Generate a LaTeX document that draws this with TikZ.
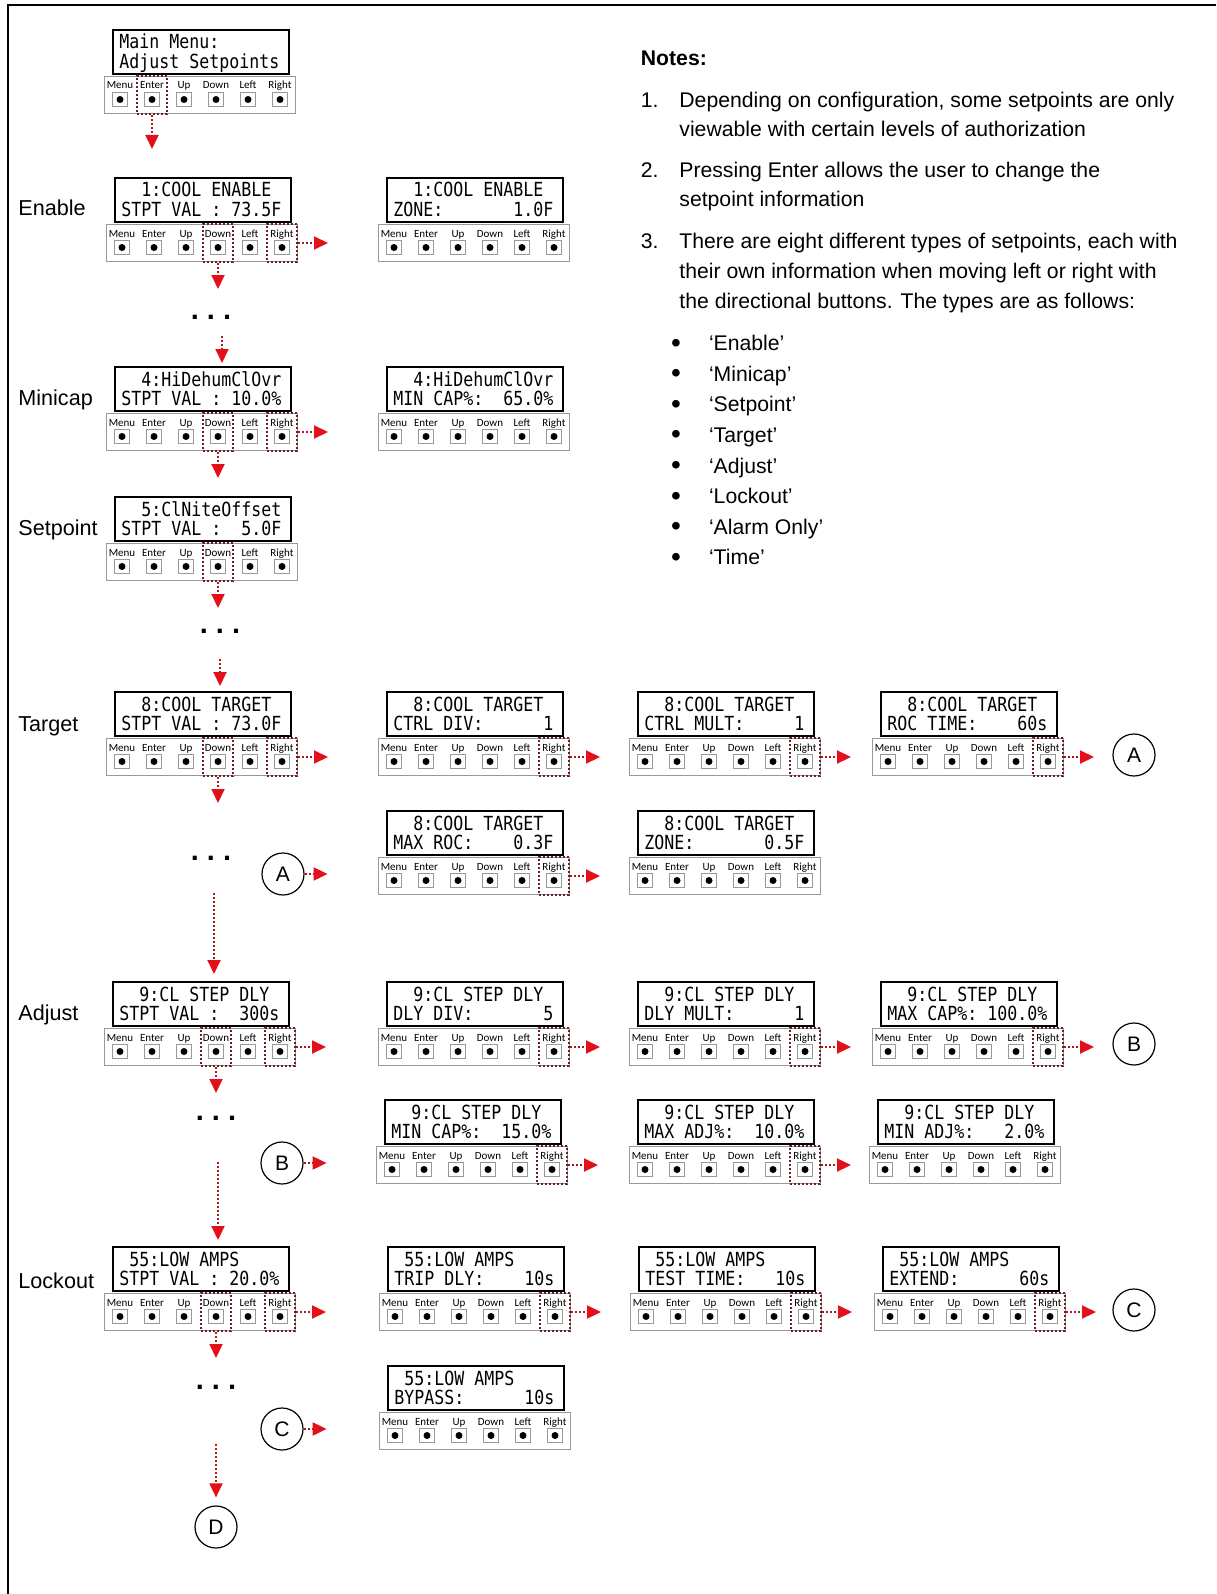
\documentclass[tikz,border=0pt]{standalone}
\usepackage{fontspec}
\usepackage{graphicx}
\setmainfont{Liberation Sans}
\newfontfamily\lcdfont{DejaVu Sans Mono}
\newfontfamily\btnfont{Carlito}
\usetikzlibrary{arrows.meta}
\definecolor{arr}{HTML}{E3101B}
\definecolor{arrline}{HTML}{B01818}
\definecolor{hlc}{HTML}{6A2020}
\tikzset{
 lcdbox/.style={draw=black, line width=1.2pt, fill=white, minimum width=88pt, minimum height=22pt, inner sep=0pt, anchor=north west},
 stripbox/.style={draw=black!40, line width=0.5pt, minimum width=95.5pt, minimum height=18.5pt, inner sep=0pt, anchor=north west},
 btn/.style={draw=black!40, line width=0.5pt, minimum width=7.5pt, minimum height=7pt, inner sep=0pt},
 btnlbl/.style={font=\btnfont\fontsize{5.5}{6}\selectfont, inner sep=0pt, anchor=base},
 lcdtxt/.style={font=\lcdfont\fontsize{8.3}{9}\selectfont, inner sep=0pt, anchor=base west},
 hlbox/.style={draw=hlc, densely dotted, line width=1pt, minimum width=15pt, minimum height=19pt, inner sep=0pt},
 flow/.style={draw=arrline, densely dotted, line width=1pt, -{Triangle[length=7pt,width=6.5pt,color=arr]}},
 conn/.style={draw, circle, line width=0.6pt, minimum size=21pt, inner sep=0pt, font=\fontsize{10.5}{12}\selectfont},
 rowlbl/.style={font=\fontsize{10.8}{12}\selectfont, anchor=base west, inner sep=0pt},
 notetxt/.style={font=\fontsize{10.6}{12}\selectfont, anchor=base west, inner sep=0pt},
 notebold/.style={font=\bfseries\fontsize{10.6}{12}\selectfont, anchor=base west, inner sep=0pt},
 bul/.style={font=\fontsize{14}{14}\selectfont, anchor=base, inner sep=0pt},
 dotsl/.style={font=\bfseries\fontsize{14.5}{15}\selectfont, inner sep=0pt}
}
\newcommand\panel[5]{%
  \node[stripbox] (#1-s) at (#2,#3+47) {};
  \node[lcdbox] (#1-l) at (#2+8,#3) {};
  \node[lcdtxt] (#1-t1) at (#2+15,#3+20) {\scalebox{1}[1.17]{#4}};
  \node[lcdtxt] (#1-t2) at (#2+15,#3+39.5) {\scalebox{1}[1.17]{#5}};
  \foreach \lab [count=\i from 0] in {Menu,Enter,Up,Down,Left,Right}{%
    \node[btnlbl] (#1-\lab-t) at (#2+16+32*\i,#3+60) {\lab};
    \node[btn] (#1-\lab) at (#2+16+32*\i,#3+70.5) {};
    \fill (#1-\lab.center) circle[radius=1.75pt];
  }%
}
\newcommand\hlb[2]{\node[hlbox] (#1-#2-h) at (#1-#2 |- #1-s.center) {};}
\newcommand\dn[1]{\hlb{#1}{Down}\draw[flow] (#1-Down-h.south) -- ++(0,26) coordinate (#1-dn);}
\newcommand\rt[1]{\hlb{#1}{Right}\draw[flow] (#1-Right-h.east) -- ++(30,0) coordinate (#1-rt);}
\begin{document}
\begin{tikzpicture}[x=0.5pt,y=-0.5pt]
\useasboundingbox (0,0) rectangle (1216,1594);
\draw[line width=1.4pt] (8,1594) -- (8,5) -- (1216,5);

% main menu
\panel{main}{104}{29}{Main~Menu:}{Adjust~Setpoints}
\hlb{main}{Enter}
\draw[flow] (main-Enter-h.south) -- ++(0,34) coordinate (main-dn);

% Enable
\node[rowlbl] (lbl-en) at (18,216) {Enable};
\panel{en1}{106}{177}{~~1:COOL~ENABLE}{STPT~VAL~:~73.5F}
\dn{en1}\rt{en1}
\panel{en2}{378}{177}{~~1:COOL~ENABLE}{ZONE:~~~~~~~1.0F}
\node[dotsl] (dots1) at (211,317) {.~.~.};
\coordinate (d1a) at (222,336); \coordinate (d1b) at (222,363);
\draw[flow] (d1a) -- (d1b);

% Minicap
\node[rowlbl] (lbl-mc) at (18,405) {Minicap};
\panel{mc1}{106}{366}{~~4:HiDehumClOvr}{STPT~VAL~:~10.0\%}
\dn{mc1}\rt{mc1}
\panel{mc2}{378}{366}{~~4:HiDehumClOvr}{MIN~CAP\%:~~65.0\%}

% Setpoint
\node[rowlbl] (lbl-sp) at (18,535) {Setpoint};
\panel{sp1}{106}{496}{~~5:ClNiteOffset}{STPT~VAL~:~~5.0F}
\dn{sp1}
\node[dotsl] (dots2) at (220,631) {.~.~.};
\coordinate (d2a) at (220,659); \coordinate (d2b) at (220,686);
\draw[flow] (d2a) -- (d2b);

% Target
\node[rowlbl] (lbl-tg) at (18,731) {Target};
\panel{tg1}{106}{691}{~~8:COOL~TARGET}{STPT~VAL~:~73.0F}
\dn{tg1}\rt{tg1}
\panel{tg2}{378}{691}{~~8:COOL~TARGET}{CTRL~DIV:~~~~~~1}
\rt{tg2}
\panel{tg3}{629}{691}{~~8:COOL~TARGET}{CTRL~MULT:~~~~~1}
\rt{tg3}
\panel{tg4}{872}{691}{~~8:COOL~TARGET}{ROC~TIME:~~~~60s}
\rt{tg4}
\node[conn] (A1) at (1134,755) {A};
\panel{tgb2}{378}{810}{~~8:COOL~TARGET}{MAX~ROC:~~~~0.3F}
\rt{tgb2}
\panel{tgb3}{629}{810}{~~8:COOL~TARGET}{ZONE:~~~~~~~0.5F}
\node[conn] (A2) at (283,874) {A};
\draw[flow] (A2.east) -- ++(23,0) coordinate (A2-rt);
\node[dotsl] (dots3) at (211,858) {.~.~.};
\coordinate (d3a) at (214,893); \coordinate (d3b) at (214,974);
\draw[flow] (d3a) -- (d3b);

% Adjust
\node[rowlbl] (lbl-ad) at (18,1020) {Adjust};
\panel{ad1}{104}{981}{~~9:CL~STEP~DLY}{STPT~VAL~:~~300s}
\dn{ad1}\rt{ad1}
\panel{ad2}{378}{981}{~~9:CL~STEP~DLY}{DLY~DIV:~~~~~~~5}
\rt{ad2}
\panel{ad3}{629}{981}{~~9:CL~STEP~DLY}{DLY~MULT:~~~~~~1}
\rt{ad3}
\panel{ad4}{872}{981}{~~9:CL~STEP~DLY}{MAX~CAP\%:~100.0\%}
\rt{ad4}
\node[conn] (B1) at (1134,1044) {B};
\panel{adb2}{376}{1099}{~~9:CL~STEP~DLY}{MIN~CAP\%:~~15.0\%}
\rt{adb2}
\panel{adb3}{629}{1099}{~~9:CL~STEP~DLY}{MAX~ADJ\%:~~10.0\%}
\rt{adb3}
\panel{adb4}{869}{1099}{~~9:CL~STEP~DLY}{MIN~ADJ\%:~~~2.0\%}
\node[conn] (B2) at (282,1163) {B};
\draw[flow] (B2.east) -- ++(23,0) coordinate (B2-rt);
\node[dotsl] (dots4) at (216,1118) {.~.~.};
\coordinate (d4a) at (218,1162); \coordinate (d4b) at (218,1240);
\draw[flow] (d4a) -- (d4b);

% Lockout
\node[rowlbl] (lbl-lo) at (18,1288) {Lockout};
\panel{lo1}{104}{1246}{~55:LOW~AMPS}{STPT~VAL~:~20.0\%}
\dn{lo1}\rt{lo1}
\panel{lo2}{379}{1246}{~55:LOW~AMPS}{TRIP~DLY:~~~~10s}
\rt{lo2}
\panel{lo3}{630}{1246}{~55:LOW~AMPS}{TEST~TIME:~~~10s}
\rt{lo3}
\panel{lo4}{874}{1246}{~55:LOW~AMPS}{EXTEND:~~~~~~60s}
\rt{lo4}
\node[conn] (C1) at (1134,1310) {C};
\panel{lob2}{379}{1365}{~55:LOW~AMPS}{BYPASS:~~~~~~10s}
\node[conn] (C2) at (282,1429) {C};
\draw[flow] (C2.east) -- ++(23,0) coordinate (C2-rt);
\node[dotsl] (dots5) at (216,1387) {.~.~.};
\node[conn] (D1) at (216,1527) {D};
\coordinate (d5a) at (216,1444);
\draw[flow] (d5a) -- ([yshift=4pt]D1.north);

% Notes
\node[notebold] (notes) at (640.5,66) {Notes:};
\node[notetxt] (n1) at (640.5,108) {1.};
\node[notetxt] (n1a) at (679,108) {Depending on configuration, some setpoints are only};
\node[notetxt] (n1b) at (679,136.5) {viewable with certain levels of authorization};
\node[notetxt] (n2) at (640.5,178) {2.};
\node[notetxt] (n2a) at (679,178) {Pressing Enter allows the user to change the};
\node[notetxt] (n2b) at (679,207) {setpoint information};
\node[notetxt] (n3) at (640.5,249) {3.};
\node[notetxt] (n3a) at (679,249) {There are eight different types of setpoints, each with};
\node[notetxt] (n3b) at (679,278.5) {their own information when moving left or right with};
\node[notetxt] (n3c) at (679,308) {the directional buttons. The types are as follows:};
\foreach \t [count=\k from 0] in {‘Enable’,‘Minicap’,‘Setpoint’,‘Target’,‘Adjust’,‘Lockout’,‘Alarm Only’,‘Time’}{
  \node[bul] (bu\k) at (676,352+30.6*\k) {•};
  \node[notetxt] (bt\k) at (708.6,350.6+30.6*\k) {\t};
}
\end{tikzpicture}
\end{document}
